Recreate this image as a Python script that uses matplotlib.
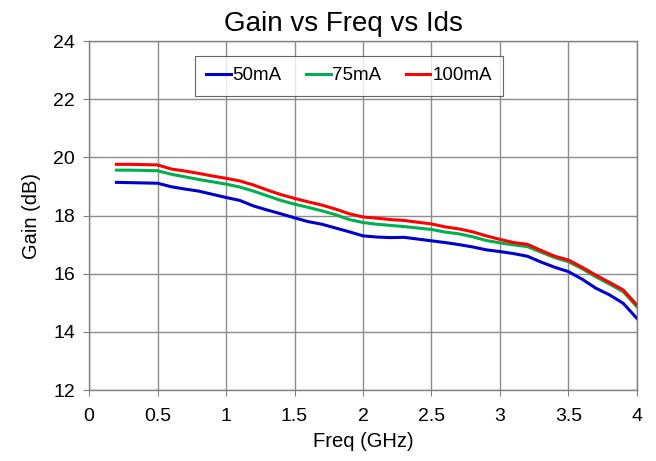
import matplotlib
matplotlib.use("Agg")
import matplotlib.pyplot as plt
import numpy as np

plt.rcParams['font.family'] = ['Liberation Sans', 'DejaVu Sans']

freq = [0.2, 0.3, 0.4, 0.5, 0.6, 0.7, 0.8, 0.9, 1.0, 1.1, 1.2, 1.3, 1.4, 1.5,
        1.6, 1.7, 1.8, 1.9, 2.0, 2.1, 2.2, 2.3, 2.4, 2.5, 2.6, 2.7, 2.8, 2.9,
        3.0, 3.1, 3.2, 3.3, 3.4, 3.5, 3.6, 3.7, 3.8, 3.9, 4.0]

gain_50 = [19.14, 19.13, 19.12, 19.11, 18.99, 18.91, 18.84, 18.73, 18.62, 18.52,
           18.33, 18.19, 18.06, 17.92, 17.79, 17.70, 17.57, 17.44, 17.30, 17.26,
           17.24, 17.25, 17.19, 17.13, 17.07, 17.00, 16.92, 16.82, 16.76, 16.69,
           16.60, 16.40, 16.22, 16.07, 15.81, 15.50, 15.27, 14.98, 14.46]

gain_75 = [19.56, 19.56, 19.55, 19.54, 19.42, 19.33, 19.24, 19.16, 19.08, 18.98,
           18.84, 18.68, 18.52, 18.39, 18.28, 18.16, 18.03, 17.86, 17.76, 17.70,
           17.66, 17.62, 17.57, 17.52, 17.43, 17.37, 17.27, 17.14, 17.06, 16.99,
           16.93, 16.74, 16.55, 16.41, 16.17, 15.89, 15.64, 15.38, 14.86]

gain_100 = [19.76, 19.76, 19.75, 19.74, 19.60, 19.53, 19.45, 19.36, 19.28, 19.19,
            19.05, 18.88, 18.72, 18.59, 18.47, 18.36, 18.22, 18.06, 17.95, 17.91,
            17.86, 17.83, 17.77, 17.71, 17.61, 17.54, 17.44, 17.30, 17.18, 17.07,
            17.01, 16.80, 16.60, 16.47, 16.22, 15.95, 15.70, 15.44, 14.92]

labels = ["50mA", "75mA", "100mA"]
colors = ["#0000CC", "#00B050", "#FF0000"]

x_ticks = [0, 0.5, 1, 1.5, 2, 2.5, 3, 3.5, 4]
x_tick_labels = ["0", "0.5", "1", "1.5", "2", "2.5", "3", "3.5", "4"]
y_ticks = [12, 14, 16, 18, 20, 22, 24]

fig = plt.figure(figsize=(6.56, 4.61), dpi=100)
ax = fig.add_axes([0.1357, 0.154, 0.8353, 0.757])

for g, lab, c in zip([gain_50, gain_75, gain_100], labels, colors):
    ax.plot(freq, g, color=c, lw=2.2, label=lab)

ax.set_xlim(0, 4)
ax.set_ylim(12, 24)
ax.set_xticks(x_ticks)
ax.set_xticklabels(x_tick_labels)
ax.set_yticks(y_ticks)
ax.grid(True, color="#8c8c8c", lw=1.0)
ax.set_axisbelow(True)
for s in ax.spines.values():
    s.set_color("#808080")
    s.set_linewidth(1.0)
ax.tick_params(axis='both', labelsize=14, length=4, color="#808080", direction='out')
ax.tick_params(axis='x', pad=9)
ax.tick_params(axis='y', pad=6)

ax.set_xlabel("Freq (GHz)", fontsize=14.5, labelpad=5)
ax.set_ylabel("Gain (dB)", fontsize=14.5, labelpad=9)
ax.set_title("Gain vs Freq vs Ids", fontsize=20, pad=7, x=0.465)

leg = ax.legend(loc='center', bbox_to_anchor=(0.4745, 0.9), ncol=3,
                fontsize=13.5, frameon=True, fancybox=False, handlelength=1.3,
                handletextpad=0.1, columnspacing=1.3, borderpad=0.6,
                borderaxespad=0)
leg.get_frame().set_edgecolor("#404040")
leg.get_frame().set_linewidth(0.8)

fig.savefig("out.png", dpi=100)
